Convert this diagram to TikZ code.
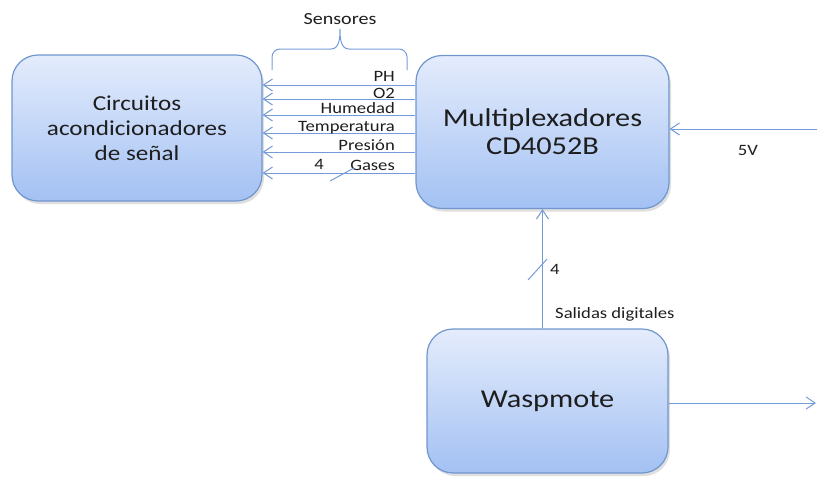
\documentclass[tikz,border=0pt]{standalone}
\usepackage{fontspec}
\setmainfont{Carlito}[FakeStretch=1.18]
\usetikzlibrary{arrows.meta,shadows}
\definecolor{boxedge}{RGB}{112,150,206}
\definecolor{boxtop}{RGB}{228,236,252}
\definecolor{boxbot}{RGB}{163,193,243}
\definecolor{wireblue}{RGB}{118,156,216}
\definecolor{textgray}{RGB}{30,30,30}

\begin{document}
\begin{tikzpicture}[x=1pt, y=-1pt,
  block/.style={rectangle, rounded corners=26pt, draw=boxedge, line width=1.2pt,
    top color=boxtop, bottom color=boxbot, text=textgray, align=center,
    font=\fontsize{25.7}{28}\selectfont,
    drop shadow={shadow xshift=2pt, shadow yshift=-3pt, opacity=.25}},
  wire/.style={draw=wireblue, line width=1pt},
  tip/.style={-{Straight Barb[length=9pt,width=12pt]}},
  lbl/.style={font=\fontsize{15.8}{18}\selectfont, text=textgray, inner sep=0pt}]
\useasboundingbox (0,0) rectangle (817,483);
% bloques
\node[block, minimum width=250pt, minimum height=146pt, font=\fontsize{21.3}{25}\selectfont] (cond) at (137,128) {Circuitos\\acondicionadores\\de señal};
\node[block, minimum width=253pt, minimum height=153pt] (mux) at (542.5,132) {Multiplexadores\\CD4052B};
\node[block, minimum width=241pt, minimum height=144pt] (wasp) at (547.5,401) {Waspmote};
% sensores
\foreach \yy/\name/\dy [count=\i] in {85/PH/4, 99/O2/1, 115/Humedad/2, 133/Temperatura/2, 152/Presión/2, 173/Gases/3} {
  \coordinate (s\i) at (0,\yy);
  \draw[wire, tip] (mux.west |- s\i) -- (cond.east |- s\i);
  \node[lbl, anchor=base east] (l\i) at (395,\yy-\dy) {\name};
}
\draw[wire] (330,181) -- (354,168);
\node[lbl, anchor=base] (n4a) at (319,169) {4};
% llave
\draw[wire] (272,70) -- (272,57) to[out=90,in=180] (280,49) -- (331,49)
  to[out=0,in=-90] (340,29) to[out=-90,in=180] (349,49) -- (399,49)
  to[out=0,in=90] (407,57) -- (407,70);
\node[lbl, anchor=base, font=\fontsize{17}{20}\selectfont] (sens) at (340,24) {Sensores};
% salidas digitales
\draw[wire, tip] (wasp.north -| mux.south) -- (mux.south);
\draw[wire] (528,280) -- (547,259);
\node[lbl, anchor=west] (n4b) at (550,269) {4};
\node[lbl, anchor=base west] (sal) at (555,318) {Salidas digitales};
% alimentacion
\coordinate (vin) at (817,129);
\draw[wire, tip] (vin) -- (mux.east |- vin);
\node[lbl, anchor=base] (v5) at (748,155) {5V};
% salida
\coordinate (out) at (816,403);
\draw[wire, tip] (wasp.east |- out) -- (out);
\end{tikzpicture}
\end{document}
